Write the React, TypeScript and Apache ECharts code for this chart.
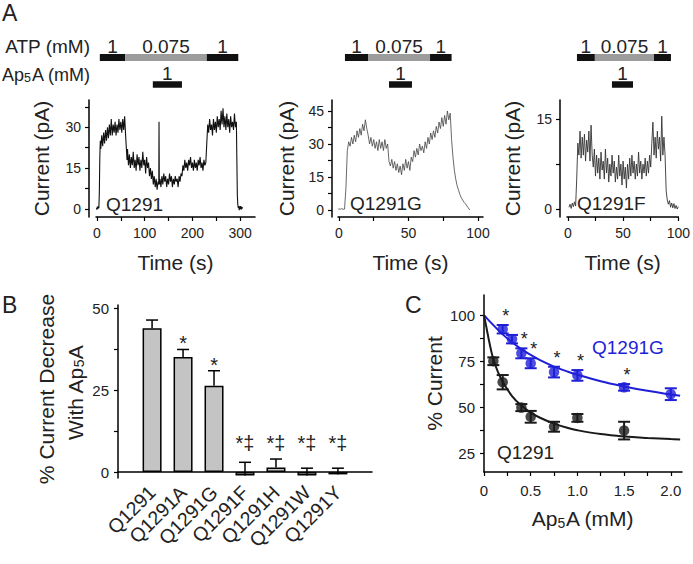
import React, { useEffect, useRef } from 'react';
import * as echarts from 'echarts';

const FONT = '"Liberation Sans", Arial, Helvetica, sans-serif';
const INK = '#1a1a1a';
const BLUE = '#1f1fd8';

// ---------- Panel A: current traces [time s, current pA] ----------
const traceQ1291: [number, number][] = [
  [-1, 0.4], [0, -0.3], [1, 0.8], [2, 0.1], [3, 0.9], [4, 0.2], [5, 6], [6, 19], [7, 25], [8, 22],
  [10, 27], [12, 23], [14, 28], [16, 24], [18, 29], [20, 25], [22, 30], [24, 26], [26, 31], [28, 27],
  [30, 33], [32, 27], [34, 31], [36, 28], [38, 32], [40, 27], [42, 31], [44, 28], [46, 33], [48, 29],
  [50, 32], [52, 28], [54, 33], [56, 29], [58, 34], [60, 27], [62, 21], [63, 18], [64, 22], [66, 16],
  [68, 20], [70, 15], [72, 19], [74, 16], [76, 21], [78, 15], [80, 18], [82, 14], [84, 20], [86, 16],
  [88, 19], [90, 14], [92, 18], [94, 15], [96, 21], [98, 16], [100, 18], [102, 13], [104, 19], [106, 15],
  [108, 17], [110, 12], [112, 15], [114, 11], [116, 14], [118, 9], [120, 12], [122, 8], [124, 11], [126, 7],
  [128, 10], [129.5, 9], [130, 32], [130.6, 9], [132, 11], [134, 8], [136, 12], [138, 9], [140, 13], [142, 10],
  [144, 12], [146, 8], [148, 11], [150, 9], [152, 13], [154, 10], [156, 12], [158, 8], [160, 11], [162, 9],
  [164, 12], [166, 10], [168, 11], [170, 8], [172, 12], [174, 10], [176, 13], [178, 12], [180, 16], [182, 14],
  [184, 18], [186, 15], [188, 17], [190, 14], [192, 18], [194, 16], [196, 19], [198, 15], [200, 17], [202, 14],
  [204, 18], [206, 15], [208, 17], [210, 14], [212, 18], [214, 16], [216, 19], [218, 15], [220, 17], [222, 14],
  [224, 18], [226, 16], [228, 17], [230, 24], [232, 31], [234, 28], [236, 33], [238, 29], [240, 31], [242, 27],
  [244, 33], [246, 29], [248, 32], [250, 28], [252, 34], [254, 30], [256, 33], [258, 29], [260, 36], [262, 31],
  [264, 37], [266, 30], [268, 34], [270, 29], [272, 35], [274, 30], [276, 33], [278, 28], [280, 34], [282, 30],
  [284, 32], [286, 29], [288, 35], [290, 30], [292, 32], [293, 18], [294, 5], [295, 1.5], [296, 0.3], [297, 1],
  [298, -0.5], [299, 0.9], [300, 0], [301, 1], [302, -0.3], [303, 0.7], [304, 0.1], [305, 0.6],
];

const traceQ1291G: [number, number][] = [
  [-0.5, 0.4], [0, 0.5], [1, 0.3], [2, 0.6], [3, 0.3], [4, 0.4], [5, 10], [6, 27], [7, 31], [8, 29],
  [9, 33], [10, 30], [11, 34], [12, 31], [13, 36], [14, 33], [15, 37], [16, 34], [17, 39], [18, 36],
  [19, 41], [20, 37], [21, 34], [22, 30], [23, 33], [24, 29], [25, 32], [26, 28], [27, 31], [28, 27],
  [29, 32], [30, 28], [31, 31], [32, 27], [33, 32], [34, 28], [35, 30], [36, 22], [37, 20], [38, 23],
  [39, 19], [40, 22], [41, 18], [42, 21], [43, 17], [44, 20], [45, 16], [46, 21], [47, 18], [48, 23],
  [49, 19], [50, 22], [51, 18], [52, 24], [53, 22], [54, 27], [55, 24], [56, 28], [57, 25], [58, 30],
  [59, 27], [60, 29], [61, 26], [62, 31], [63, 28], [64, 33], [65, 30], [66, 35], [67, 32], [68, 36],
  [69, 33], [70, 38], [71, 35], [72, 40], [73, 37], [74, 42], [75, 38], [76, 43], [77, 39], [78, 45],
  [79, 41], [80, 44], [81, 32], [82, 24], [83, 18], [84, 14], [85, 11], [86, 9], [87, 7], [88, 5.5],
  [89, 4.5], [90, 3.5], [91, 2.8], [92, 1.8], [93, 1], [94, 0],
];

const traceQ1291F: [number, number][] = [
  [1, 0.3], [2, 0.8], [3, 0.1], [4, 1], [5, 0.4], [6, 1.2], [7, 0.5], [8, 5], [9, 11], [10, 9],
  [11, 13], [12, 8.5], [13, 12], [14, 9], [15, 12.5], [16, 8], [17, 11.5], [18, 9.5], [19, 13], [20, 8],
  [21, 14], [22, 9], [23, 7], [24, 10], [25, 5.5], [26, 9], [27, 6], [28, 8.5], [29, 5], [30, 9.5],
  [31, 6.5], [32, 8], [33, 5], [34, 10], [35, 6], [36, 8.5], [37, 4.5], [38, 7.5], [39, 5.5], [40, 9],
  [41, 6], [42, 8], [43, 4.5], [44, 7], [45, 5], [46, 9], [47, 5.5], [48, 7.5], [49, 4], [50, 8],
  [51, 5], [52, 7], [53, 3.5], [54, 7.5], [55, 5], [56, 8.5], [57, 5.5], [58, 9], [59, 6], [60, 8],
  [61, 5], [62, 7.5], [63, 5.5], [64, 9.5], [65, 6], [66, 8], [67, 5], [68, 7.5], [69, 6], [70, 8.5],
  [71, 5.5], [72, 8], [73, 6], [74, 9], [75, 7], [76, 11], [77, 14.5], [78, 9], [79, 12], [80, 8.5],
  [81, 13], [82, 10], [83, 12], [84, 8], [85, 15.5], [86, 9], [87, 12], [88, 9], [89, 3], [90, 1.5],
  [91, 0.8], [92, 1.4], [93, 0.3], [94, 1], [95, 0.2], [96, 0.9], [97, 0.1], [98, 0.6], [99, 0], [100, 0.4],
];

// Solution application bars: [start s, end s, row (0 = ATP, 1 = Ap5A), concentration mM]
const stepsQ1291 = [[6, 59, 0, 1], [59, 230, 0, 0.075], [230, 296, 0, 1], [117, 178, 1, 1]];
const stepsQ1291G = [[4.3, 20.9, 0, 1], [20.9, 65.5, 0, 0.075], [65.5, 81, 0, 1], [36, 52.5, 1, 1]];
const stepsQ1291F = [[7.7, 23, 0, 1], [23, 73.5, 0, 0.075], [73.5, 88, 0, 1], [37.6, 55.6, 1, 1]];

// ---------- Panel B ----------
const mutants = ['Q1291', 'Q1291A', 'Q1291G', 'Q1291F', 'Q1291H', 'Q1291W', 'Q1291Y'];
const decreaseMean = [44, 35.2, 26.4, -1, 1.4, -1, -0.7];
const decreaseSem = [2.5, 2.3, 4.6, 4, 2.6, 2.2, 1.9];
const decreaseSig = ['', '*', '*', '*‡', '*‡', '*‡', '*‡'];

// ---------- Panel C ----------
const doseG = [0.2, 0.3, 0.4, 0.5, 0.75, 1.0, 1.5, 2.0];
const currentG = [92.3, 86.9, 79.2, 73.8, 69, 67.2, 60.7, 57];
const semG = [2.3, 2.3, 2.7, 2.7, 2.9, 2.9, 1.8, 3.2];
const sigG = ['*', '', '*', '*', '*', '*', '*', ''];
const doseWT = [0.1, 0.2, 0.4, 0.5, 0.75, 1.0, 1.5];
const currentWT = [74.9, 63.5, 49.7, 44.7, 39.3, 44.1, 37.2];
const semWT = [2.1, 3.9, 1.9, 3.2, 2.7, 2.1, 4.8];
const fitDoseG = [0, 0.1, 0.2, 0.3, 0.4, 0.5, 0.6, 0.75, 0.9, 1.0, 1.25, 1.5, 1.75, 2.0, 2.1];
const fitG = [100, 94.5, 89.5, 85.2, 81.5, 78.3, 75.5, 72, 69.2, 67.6, 64, 61.2, 58.8, 56.8, 56.1];
const fitDoseWT = [0, 0.025, 0.05, 0.075, 0.1, 0.15, 0.2, 0.3, 0.4, 0.5, 0.6, 0.75, 0.9, 1.0, 1.25, 1.5, 1.75, 2.0, 2.1];
const fitWT = [100, 93.5, 87, 81, 76, 69, 63.8, 56, 50.8, 47, 44.2, 41, 38.6, 37.4, 35.3, 34, 33.2, 32.6, 32.4];

const subRich = {
  sub: { fontSize: 14, fontFamily: FONT, color: '#222', verticalAlign: 'bottom', lineHeight: 14 },
};

function valAxis(gridIndex: number, min: number, max: number, ticks: number[], labels: number[], extra: any = {}) {
  const { axisLabel, ...rest } = extra;
  return {
    type: 'value',
    gridIndex,
    min,
    max,
    axisLine: { show: true, onZero: false, lineStyle: { color: '#000', width: 1.5 } },
    axisTick: { show: true, customValues: ticks, length: 4, lineStyle: { color: '#000', width: 1.2 } },
    axisLabel: {
      customValues: labels,
      color: '#222',
      fontSize: 14,
      fontFamily: FONT,
      margin: 8,
      ...(axisLabel || {}),
    },
    splitLine: { show: false },
    nameTextStyle: { fontSize: 21, fontFamily: FONT, color: '#222', lineHeight: 24, rich: subRich },
    nameLocation: 'middle',
    ...rest,
  };
}

function stepsSeries(idx: number, data: number[][]) {
  return {
    type: 'custom',
    xAxisIndex: idx,
    yAxisIndex: idx,
    encode: { x: [0, 1], y: 2 },
    data,
    renderItem: (_p: any, api: any) => {
      const s = api.coord([api.value(0), api.value(2)]);
      const e = api.coord([api.value(1), api.value(2)]);
      const conc = api.value(3);
      const h = api.value(2) === 0 ? 7 : 6.5;
      return {
        type: 'group',
        children: [
          {
            type: 'rect',
            shape: { x: s[0], y: s[1] - h / 2, width: e[0] - s[0], height: h },
            style: { fill: conc === 1 ? '#111' : '#9c9c9c' },
          },
          {
            type: 'text',
            x: (s[0] + e[0]) / 2,
            y: s[1] - 11,
            style: {
              text: String(conc),
              fontSize: 19,
              fontFamily: FONT,
              fill: '#222',
              align: 'center',
              verticalAlign: 'middle',
              textAlign: 'center',
              textVerticalAlign: 'middle',
            },
          },
        ],
      };
    },
  };
}

function errorSeries(xi: number, data: number[][], color: string, cap: number, lw: number, twoSided: boolean, sig: string[], sigFont: number, sigDx: number, sigDy: number, sigFloor: number | null) {
  return {
    type: 'custom',
    xAxisIndex: xi,
    yAxisIndex: xi,
    encode: { x: 0, y: 1 },
    data,
    z: 5,
    renderItem: (p: any, api: any) => {
      const x = api.value(0);
      const y = api.value(1);
      const e = api.value(2);
      const top = api.coord([x, y + e]);
      const bot = api.coord([x, twoSided ? y - e : y]);
      const st = { stroke: color, lineWidth: lw };
      const children: any[] = [
        { type: 'line', shape: { x1: top[0], y1: top[1], x2: bot[0], y2: bot[1] }, style: st },
        { type: 'line', shape: { x1: top[0] - cap / 2, y1: top[1], x2: top[0] + cap / 2, y2: top[1] }, style: st },
      ];
      if (twoSided) {
        children.push({ type: 'line', shape: { x1: bot[0] - cap / 2, y1: bot[1], x2: bot[0] + cap / 2, y2: bot[1] }, style: st });
      }
      const s = sig[p.dataIndex];
      if (s) {
        const level = sigFloor === null ? y + e : Math.max(y + e, sigFloor);
        const pt = api.coord([x, level]);
        children.push({
          type: 'text',
          x: pt[0] + sigDx,
          y: pt[1] + sigDy,
          style: {
            text: s,
            fontSize: sigFont,
            fontFamily: FONT,
            fill: '#222',
            align: 'center',
            verticalAlign: 'bottom',
            textAlign: 'center',
            textVerticalAlign: 'bottom',
          },
        });
      }
      return { type: 'group', children };
    },
  };
}

function txt(x: number, y: number, text: string, size: number, align: string, color = '#222', rich?: any, rotation = 0) {
  return {
    type: 'text',
    x,
    y,
    rotation,
    style: {
      text,
      fontSize: size,
      fontFamily: FONT,
      fill: color,
      align,
      verticalAlign: 'middle',
      textAlign: align,
      textVerticalAlign: 'middle',
      ...(rich ? { rich } : {}),
    },
  };
}

export default function App() {
  const ref = useRef<HTMLDivElement>(null);

  useEffect(() => {
    if (!ref.current) return;
    const chart = echarts.init(ref.current, undefined, { renderer: 'svg' });

    const grids = [
      { left: 96, top: 100, width: 159, height: 117 },
      { left: 338, top: 100, width: 145, height: 117 },
      { left: 567, top: 100, width: 118, height: 117 },
      { left: 96, top: 44, width: 159, height: 54 },
      { left: 338, top: 44, width: 145, height: 54 },
      { left: 567, top: 44, width: 118, height: 54 },
      { left: 118, top: 305, width: 254, height: 173 },
      { left: 484, top: 295, width: 198, height: 177 },
    ];

    const timeName = { name: 'Time (s)', nameGap: 33 };
    const curName = { name: 'Current (pA)', nameRotate: 90 };

    const xAxis: any[] = [
      valAxis(0, -2, 331, [0, 50, 100, 150, 200, 250, 300], [0, 100, 200, 300], { ...timeName, axisLabel: { margin: 9 } }),
      valAxis(1, -0.7, 103.6, [0, 25, 50, 75, 100], [0, 50, 100], { ...timeName, axisLabel: { margin: 9 } }),
      valAxis(2, -0.8, 100, [0, 25, 50, 75, 100], [0, 50, 100], { ...timeName, axisLabel: { margin: 9 } }),
      { type: 'value', gridIndex: 3, min: -2, max: 331, show: false },
      { type: 'value', gridIndex: 4, min: -0.7, max: 103.6, show: false },
      { type: 'value', gridIndex: 5, min: -0.8, max: 100, show: false },
      {
        ...valAxis(6, -0.1, 8.1, [], [1, 2, 3, 4, 5, 6, 7], {
          axisLabel: {
            rotate: 45,
            fontSize: 19.5,
            margin: 11,
            formatter: (v: number) => mutants[Math.round(v) - 1] || '',
          },
        }),
        axisLine: { show: true, onZero: true, lineStyle: { color: '#000', width: 1.5 } },
        axisTick: { show: false },
      },
      valAxis(7, 0, 2.12, [0, 0.25, 0.5, 0.75, 1, 1.25, 1.5, 1.75, 2], [0, 0.5, 1, 1.5, 2], {
        name: 'Ap{sub|5}A (mM)',
        nameGap: 34,
        axisLabel: { fontSize: 15, margin: 11, formatter: (v: number) => (v === 0 ? '0' : v.toFixed(1)) },
      }),
    ];

    const yAxis: any[] = [
      valAxis(0, -3, 40, [0, 7.5, 15, 22.5, 30, 37.5], [0, 15, 30], { ...curName, offset: 7, nameGap: 36 }),
      valAxis(1, -3.2, 50, [0, 7.5, 15, 22.5, 30, 37.5, 45], [0, 15, 30, 45], { ...curName, offset: 6, nameGap: 34 }),
      valAxis(2, -1.33, 18.2, [0, 7.5, 15], [0, 15], { ...curName, offset: 7, nameGap: 36 }),
      { type: 'category', gridIndex: 3, data: ['ATP', 'Ap5A'], inverse: true, show: false },
      { type: 'category', gridIndex: 4, data: ['ATP', 'Ap5A'], inverse: true, show: false },
      { type: 'category', gridIndex: 5, data: ['ATP', 'Ap5A'], inverse: true, show: false },
      valAxis(6, -1.8, 51.1, [0, 12.5, 25, 37.5, 50], [0, 25, 50], {
        axisLabel: { fontSize: 15, margin: 9 },
      }),
      valAxis(7, 14.7, 110.9, [25, 37.5, 50, 62.5, 75, 87.5, 100], [25, 50, 75, 100], {
        name: '% Current',
        nameRotate: 90,
        nameGap: 38,
        axisLabel: { fontSize: 15, margin: 9 },
      }),
    ];

    const traceLine = (idx: number, data: [number, number][], color: string, w: number) => ({
      type: 'line',
      xAxisIndex: idx,
      yAxisIndex: idx,
      data,
      showSymbol: false,
      lineStyle: { color, width: w },
      clip: true,
    });

    const series: any[] = [
      traceLine(0, traceQ1291, '#111', 1.1),
      traceLine(1, traceQ1291G, '#444', 0.8),
      traceLine(2, traceQ1291F, '#333', 0.9),
      stepsSeries(3, stepsQ1291),
      stepsSeries(4, stepsQ1291G),
      stepsSeries(5, stepsQ1291F),
      {
        type: 'bar',
        xAxisIndex: 6,
        yAxisIndex: 6,
        barWidth: 19,
        data: mutants.map((_, i) => [i + 1, decreaseMean[i]]),
        itemStyle: { color: '#c4c4c4', borderColor: '#000', borderWidth: 1.5 },
      },
      errorSeries(6, mutants.map((_, i) => [i + 1, decreaseMean[i], decreaseSem[i]]), '#000', 12, 1.5, false, decreaseSig, 20, 0, 4, 7.2),
      {
        type: 'line',
        xAxisIndex: 7,
        yAxisIndex: 7,
        data: fitDoseG.map((d, i) => [d, fitG[i]]),
        smooth: 0.4,
        showSymbol: false,
        lineStyle: { color: BLUE, width: 2 },
      },
      {
        type: 'line',
        xAxisIndex: 7,
        yAxisIndex: 7,
        data: fitDoseWT.map((d, i) => [d, fitWT[i]]),
        smooth: 0.4,
        showSymbol: false,
        lineStyle: { color: INK, width: 2 },
      },
      errorSeries(7, doseG.map((d, i) => [d, currentG[i], semG[i]]), BLUE, 12, 2, true, sigG, 18, 3, 0, null),
      errorSeries(7, doseWT.map((d, i) => [d, currentWT[i], semWT[i]]), INK, 12, 2, true, [], 17, 0, 0, null),
      {
        type: 'scatter',
        xAxisIndex: 7,
        yAxisIndex: 7,
        data: doseG.map((d, i) => [d, currentG[i]]),
        symbol: 'circle',
        symbolSize: 10.5,
        itemStyle: { color: BLUE },
        z: 6,
      },
      {
        type: 'scatter',
        xAxisIndex: 7,
        yAxisIndex: 7,
        data: doseWT.map((d, i) => [d, currentWT[i]]),
        symbol: 'circle',
        symbolSize: 10.5,
        itemStyle: { color: INK },
        z: 6,
      },
    ];

    const subSmall = { sub: { fontSize: 12.5, fontFamily: FONT, fill: '#222', color: '#222', verticalAlign: 'bottom', lineHeight: 12 } };
    const subTitle = { sub: { fontSize: 14, fontFamily: FONT, fill: '#222', color: '#222', verticalAlign: 'bottom', lineHeight: 14 } };

    const graphic: any[] = [
      txt(2, 13, 'A', 23, 'left'),
      txt(2, 305, 'B', 23, 'left'),
      txt(405, 305, 'C', 23, 'left'),
      txt(90, 46, 'ATP (mM)', 19, 'right'),
      txt(90, 75, 'Ap{sub|5}A (mM)', 18, 'right', '#222', subSmall),
      txt(106, 204, 'Q1291', 19, 'left'),
      txt(350, 203, 'Q1291G', 19, 'left'),
      txt(577, 203, 'Q1291F', 19, 'left'),
      txt(592, 347, 'Q1291G', 19, 'left', BLUE),
      txt(497, 452, 'Q1291', 19, 'left'),
      txt(46, 389, '% Current Decrease', 21, 'center', '#222', undefined, Math.PI / 2),
      txt(75, 393, 'With Ap{sub|5}A', 21, 'center', '#222', subTitle, Math.PI / 2),
    ];

    chart.setOption({
      animation: false,
      backgroundColor: '#fff',
      textStyle: { fontFamily: FONT },
      grid: grids,
      xAxis,
      yAxis,
      series,
      graphic,
    });

    return () => chart.dispose();
  }, []);

  return <div ref={ref} style={{ position: 'fixed', left: 0, top: 0, width: 693, height: 564 }} />;
}
